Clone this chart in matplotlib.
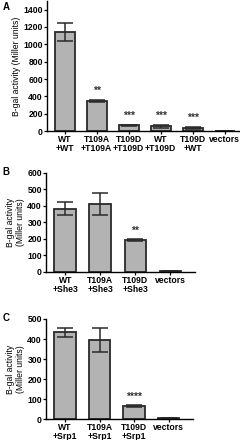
import matplotlib
matplotlib.use("Agg")
import matplotlib.pyplot as plt
import numpy as np

plt.rcParams["font.family"] = ["Liberation Sans", "DejaVu Sans"]
plt.rcParams["font.weight"] = "bold"

# panel A
a_labels = ["WT\n+WT", "T109A\n+T109A", "T109D\n+T109D", "WT\n+T109D", "T109D\n+WT", "vectors"]
a_vals = [1140, 345, 65, 55, 40, 5]
a_err = [105, 15, 10, 15, 10, 2]
a_stars = ["", "**", "***", "***", "***", ""]
a_ticks = [0, 200, 400, 600, 800, 1000, 1200, 1400]

# panel B
b_labels = ["WT\n+She3", "T109A\n+She3", "T109D\n+She3", "vectors"]
b_vals = [382, 410, 192, 5]
b_err = [40, 68, 8, 2]
b_stars = ["", "", "**", ""]
b_ticks = [0, 100, 200, 300, 400, 500, 600]

# panel C
c_labels = ["WT\n+Srp1", "T109A\n+Srp1", "T109D\n+Srp1", "vectors"]
c_vals = [433, 395, 65, 5]
c_err = [22, 58, 6, 2]
c_stars = ["", "", "****", ""]
c_ticks = [0, 100, 200, 300, 400, 500]


def panel(ax, labels, vals, err, stars, ticks, ylim, ylabel, xmax):
    x = np.arange(len(vals))
    ax.bar(x, vals, width=0.62, color="#b3b3b3", edgecolor="#2a2a2a", linewidth=1.3)
    ax.errorbar(x, vals, yerr=err, fmt="none", ecolor="#2a2a2a", elinewidth=1.1,
                capsize=5.5, capthick=1.1)
    for xi, v, e, s in zip(x, vals, err, stars):
        if s:
            ax.text(xi, v + e + ylim * 0.03, s, ha="center", va="bottom", fontsize=7.5,
                    color="#333333")
    ax.set_xlim(-0.55, xmax)
    ax.set_ylim(0, ylim)
    ax.set_yticks(ticks)
    ax.set_xticks(x)
    ax.set_xticklabels(labels, fontsize=6.2, linespacing=0.95)
    ax.tick_params(axis="y", labelsize=6.2, length=2, width=0.9, pad=1)
    ax.tick_params(axis="x", length=2, width=0.9, pad=1)
    for s in ("top", "right"):
        ax.spines[s].set_visible(False)
    for s in ("left", "bottom"):
        ax.spines[s].set_linewidth(1.0)
    ax.set_ylabel(ylabel, fontsize=6.2, labelpad=2, linespacing=1.05)


fig = plt.figure(figsize=(2.4, 4.4), dpi=100)
ax_a = fig.add_axes([0.196, 0.702, 0.80, 0.296])
ax_b = fig.add_axes([0.192, 0.382, 0.62, 0.2255])
ax_c = fig.add_axes([0.192, 0.0477, 0.612, 0.2273])

panel(ax_a, a_labels, a_vals, a_err, a_stars, a_ticks, 1500,
      "B-gal activity (Miller units)", 5.45)
panel(ax_b, b_labels, b_vals, b_err, b_stars, b_ticks, 600,
      "B-gal activity\n(Miller units)", 3.7)
panel(ax_c, c_labels, c_vals, c_err, c_stars, c_ticks, 500,
      "B-gal activity\n(Miller units)", 3.7)

for letter, yy in (("A", 0.996), ("B", 0.62), ("C", 0.289)):
    fig.text(0.01, yy, letter, fontsize=7, fontweight="bold", va="top")

fig.savefig("out.png", dpi=100)
